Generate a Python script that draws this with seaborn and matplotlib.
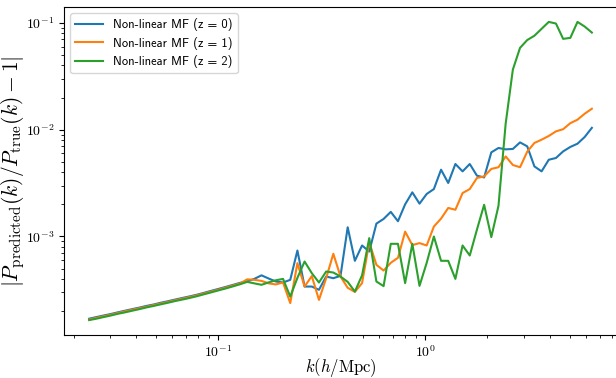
import numpy as np
import pandas as pd
import matplotlib
matplotlib.use("Agg")
import matplotlib.pyplot as plt
import seaborn as sns
from matplotlib.ticker import FuncFormatter, NullFormatter

k = [0.02379, 0.02577, 0.02791, 0.03024, 0.03275, 0.03548, 0.03843, 0.04163, 0.04509, 0.04885,
     0.05291, 0.05731, 0.06208, 0.06725, 0.07285, 0.07891, 0.08548, 0.09259, 0.1003, 0.1086,
     0.1177, 0.1275, 0.1381, 0.1496, 0.1620, 0.1755, 0.1901, 0.2059, 0.2231, 0.2416,
     0.2617, 0.2835, 0.3071, 0.3327, 0.3603, 0.3903, 0.4228, 0.4580, 0.4961, 0.5374,
     0.5820, 0.6305, 0.6829, 0.7398, 0.8013, 0.8680, 0.9403, 1.0185, 1.1033, 1.1951,
     1.2942, 1.4019, 1.5186, 1.6450, 1.7819, 1.9302, 2.0908, 2.2648, 2.4533, 2.6575,
     2.8786, 3.1182, 3.3777, 3.6588, 3.9633, 4.2931, 4.6504, 5.0374, 5.4566, 5.9107, 6.4026]

err_z0 = [1.70e-4, 1.76e-4, 1.82e-4, 1.88e-4, 1.95e-4, 2.02e-4, 2.09e-4, 2.16e-4, 2.24e-4, 2.31e-4,
          2.40e-4, 2.48e-4, 2.57e-4, 2.66e-4, 2.75e-4, 2.85e-4, 2.97e-4, 3.10e-4, 3.23e-4, 3.37e-4,
          3.52e-4, 3.68e-4,
          3.80e-4, 4.01e-4, 4.33e-4, 4.04e-4, 3.79e-4, 3.71e-4, 3.93e-4, 7.39e-4, 3.40e-4, 3.40e-4,
          3.17e-4, 4.22e-4, 4.07e-4, 4.28e-4, 1.22e-3, 5.92e-4, 8.24e-4, 7.23e-4, 1.32e-3, 1.46e-3,
          1.70e-3, 1.39e-3, 2.00e-3, 2.59e-3, 2.03e-3, 2.50e-3, 2.78e-3, 4.22e-3, 3.17e-3, 4.77e-3,
          4.07e-3, 4.77e-3, 3.71e-3, 3.57e-3, 6.13e-3, 6.74e-3, 6.54e-3, 6.60e-3, 7.60e-3, 6.98e-3,
          4.53e-3, 4.07e-3, 5.23e-3, 5.43e-3, 6.26e-3, 6.89e-3, 7.39e-3, 8.54e-3, 1.04e-2]

err_z1 = [1.67e-4, 1.73e-4, 1.79e-4, 1.85e-4, 1.92e-4, 1.99e-4, 2.06e-4, 2.13e-4, 2.20e-4, 2.28e-4,
          2.36e-4, 2.44e-4, 2.53e-4, 2.62e-4, 2.71e-4, 2.81e-4, 2.93e-4, 3.05e-4, 3.18e-4, 3.32e-4,
          3.47e-4, 3.63e-4,
          3.97e-4, 3.93e-4, 3.84e-4, 3.64e-4, 3.56e-4, 3.71e-4, 2.38e-4, 5.63e-4, 3.40e-4, 4.26e-4,
          2.55e-4, 4.07e-4, 6.89e-4, 4.22e-4, 3.31e-4, 3.03e-4, 3.66e-4, 8.82e-4, 5.43e-4, 4.80e-4,
          5.67e-4, 6.32e-4, 1.11e-3, 8.31e-4, 8.67e-4, 8.24e-4, 1.24e-3, 1.47e-3, 1.85e-3, 1.78e-3,
          2.55e-3, 2.78e-3, 3.53e-3, 3.65e-3, 4.29e-3, 4.45e-3, 5.62e-3, 4.67e-3, 4.45e-3, 6.22e-3,
          7.51e-3, 8.06e-3, 8.73e-3, 9.64e-3, 1.01e-2, 1.15e-2, 1.24e-2, 1.41e-2, 1.57e-2]

err_z2 = [1.65e-4, 1.70e-4, 1.76e-4, 1.82e-4, 1.89e-4, 1.95e-4, 2.02e-4, 2.09e-4, 2.17e-4, 2.24e-4,
          2.32e-4, 2.40e-4, 2.49e-4, 2.57e-4, 2.66e-4, 2.76e-4, 2.88e-4, 3.00e-4, 3.13e-4, 3.26e-4,
          3.41e-4, 3.57e-4,
          3.76e-4, 3.64e-4, 3.53e-4, 3.72e-4, 3.89e-4, 4.01e-4, 2.74e-4, 4.10e-4, 5.83e-4, 4.54e-4,
          3.71e-4, 4.70e-4, 4.60e-4, 4.22e-4, 3.76e-4, 3.05e-4, 4.33e-4, 9.66e-4, 3.79e-4, 3.43e-4,
          8.54e-4, 8.54e-4, 3.66e-4, 8.54e-4, 3.45e-4, 5.67e-4, 1.00e-3, 5.92e-4, 5.92e-4, 4.01e-4,
          8.24e-4, 6.64e-4, 1.16e-3, 1.98e-3, 9.87e-4, 1.94e-3, 1.14e-2, 3.65e-2, 5.83e-2, 6.90e-2,
          7.57e-2, 8.79e-2, 1.02e-1, 9.85e-2, 7.08e-2, 7.23e-2, 1.02e-1, 9.23e-2, 8.11e-2]

series_labels = ["Non-linear MF (z = 0)", "Non-linear MF (z = 1)", "Non-linear MF (z = 2)"]
colors = ["#1f77b4", "#ff7f0e", "#2ca02c"]

plt.rcParams['mathtext.fontset'] = 'cm'

df = pd.concat([
    pd.DataFrame({"k": k, "err": vals, "series": lab})
    for vals, lab in zip([err_z0, err_z1, err_z2], series_labels)
], ignore_index=True)

fig = plt.figure(figsize=(6.16, 3.78), dpi=100)
ax = fig.add_axes([64 / 616, 1 - 335 / 378, (617 - 64) / 616, (335 - 7) / 378])
ax.set_xscale("log")
ax.set_yscale("log")
sns.lineplot(data=df, x="k", y="err", hue="series", hue_order=series_labels,
             palette=colors, estimator=None, sort=False, linewidth=1.5,
             legend=False, ax=ax)
ax.autoscale()

fmt = FuncFormatter(lambda v, p: r"$10^{%d}$" % int(round(np.log10(v))))
ax.xaxis.set_major_formatter(fmt)
ax.yaxis.set_major_formatter(fmt)
ax.xaxis.set_minor_formatter(NullFormatter())
ax.yaxis.set_minor_formatter(NullFormatter())
ax.tick_params(labelsize=10)

ax.set_xlabel(r"$k(h/\mathrm{Mpc})$", fontsize=12)
ax.set_ylabel(r"$|P_{\mathrm{predicted}}(k)/P_{\mathrm{true}}(k)-1|$", fontsize=15.5)
ax.xaxis.set_label_coords(0.5, (335 - 356) / 328)
ax.yaxis.set_label_coords((27 - 64) / 553, 0.5)

ax.legend(ax.get_lines()[:3], series_labels, loc="upper left",
          prop={"family": "cmss10", "size": 9}, handlelength=2.24,
          labelspacing=0.44)

fig.savefig("out.png", dpi=100)
